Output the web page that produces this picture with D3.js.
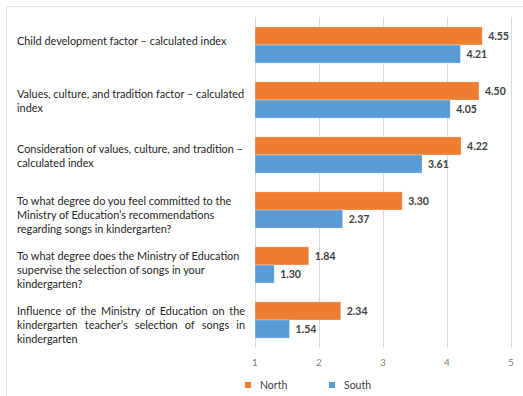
<!DOCTYPE html>
<html>
<head>
<meta charset="utf-8">
<script src="https://cdn.jsdelivr.net/npm/d3@7"></script>
<style>
  body { margin: 0; background: #fff; }
  text { font-family: Lato, "Open Sans", sans-serif; }
</style>
</head>
<body>
<svg class="main" width="523" height="396"></svg>
<script>
// категории (строки подписей уже разбиты как на рисунке)
const categories = [
  ["Child development factor \u2013 calculated index"],
  ["Values, culture, and tradition factor \u2013 calculated", "index"],
  ["Consideration of values, culture, and tradition \u2013", "calculated index"],
  ["To what degree do you feel committed to the", "Ministry of Education\u2019s recommendations", "regarding songs in kindergarten?"],
  ["To what degree does the Ministry of Education", "supervise the selection of songs in your", "kindergarten?"],
  ["Influence of the Ministry of Education on the", "kindergarten teacher\u2019s selection of songs in", "kindergarten"]
];
const justified = [false, false, false, false, false, true];
const seriesNames = ["North", "South"];
const north = [4.55, 4.50, 4.22, 3.30, 1.84, 2.34];
const south = [4.21, 4.05, 3.61, 2.37, 1.30, 1.54];
const ticks = [1, 2, 3, 4, 5];
const colors = ["#ED7D31", "#5B9BD5"];

const svg = d3.select("svg.main");

// рамка (видны только верх и левый край)
svg.append("path")
  .attr("d", "M6.5,396 V6.5 H523")
  .attr("fill", "none")
  .attr("stroke", "#e3e3e3");

const x = d3.scaleLinear().domain([1, 5]).range([255, 511]);
const y = d3.scaleBand().domain(d3.range(categories.length)).range([17.5, 347.5]);
const sub = d3.scaleBand().domain([0, 1]).range([0, y.bandwidth()]).paddingOuter(0.52).paddingInner(0);

// сетка
svg.append("g").selectAll("line").data(ticks).join("line")
  .attr("x1", d => x(d) + 0.5).attr("x2", d => x(d) + 0.5)
  .attr("y1", 17).attr("y2", 348)
  .attr("stroke", "#d9d9d9");

// подписи делений
svg.append("g").selectAll("text").data(ticks).join("text")
  .attr("x", d => x(d)).attr("y", 366)
  .attr("text-anchor", "middle")
  .attr("font-size", 10).attr("fill", "#7f7f7f")
  .text(d => d);

// столбцы
const data = [];
north.forEach((v, i) => data.push({i, s: 0, v}));
south.forEach((v, i) => data.push({i, s: 1, v}));

const bars = svg.append("g");
bars.selectAll("rect").data(data).join("rect")
  .attr("x", x(1))
  .attr("y", d => y(d.i) + sub(d.s))
  .attr("width", d => x(d.v) - x(1))
  .attr("height", sub.bandwidth())
  .attr("fill", d => colors[d.s])
  .attr("stroke", "#fff").attr("stroke-opacity", 0.5).attr("stroke-width", 0.6);

bars.selectAll("text").data(data).join("text")
  .attr("x", d => x(d.v) + 6)
  .attr("y", d => y(d.i) + sub(d.s) + sub.bandwidth() / 2)
  .attr("dy", "0.36em")
  .attr("font-size", 10.5).attr("font-weight", "bold").attr("fill", "#404040")
  .text(d => d.v.toFixed(2));

// подписи категорий
const lh = 14.3, labelX = 17, labelW = 228;
const lab = svg.append("g").attr("font-size", 10.9).attr("fill", "#262626");
categories.forEach((lines, i) => {
  const n = lines.length;
  const cy = y(i) + y.bandwidth() / 2 + 4.3 * n - 7.7;
  lines.forEach((ln, k) => {
    const ly = cy + (k - (n - 1) / 2) * lh;
    if (justified[i] && k < n - 1) {
      const words = ln.split(" ");
      const g = lab.append("g");
      const ts = words.map(w => g.append("text").attr("y", ly).attr("dy", "0.35em").text(w));
      const widths = ts.map(t => t.node().getComputedTextLength());
      const gap = (labelW - d3.sum(widths)) / (words.length - 1);
      let cx = labelX;
      ts.forEach((t, j) => { t.attr("x", cx); cx += widths[j] + gap; });
    } else {
      lab.append("text").attr("x", labelX).attr("y", ly).attr("dy", "0.35em").text(ln);
    }
  });
});

// легенда
const leg = svg.append("g");
const legX = [245, 329];
seriesNames.forEach((s, i) => {
  leg.append("rect").attr("x", legX[i]).attr("y", 382).attr("width", 6).attr("height", 6).attr("fill", colors[i]);
  leg.append("text").attr("x", legX[i] + 15).attr("y", 385).attr("dy", "0.35em")
    .attr("font-size", 10.5).attr("fill", "#404040").text(s);
});
</script>
</body>
</html>
